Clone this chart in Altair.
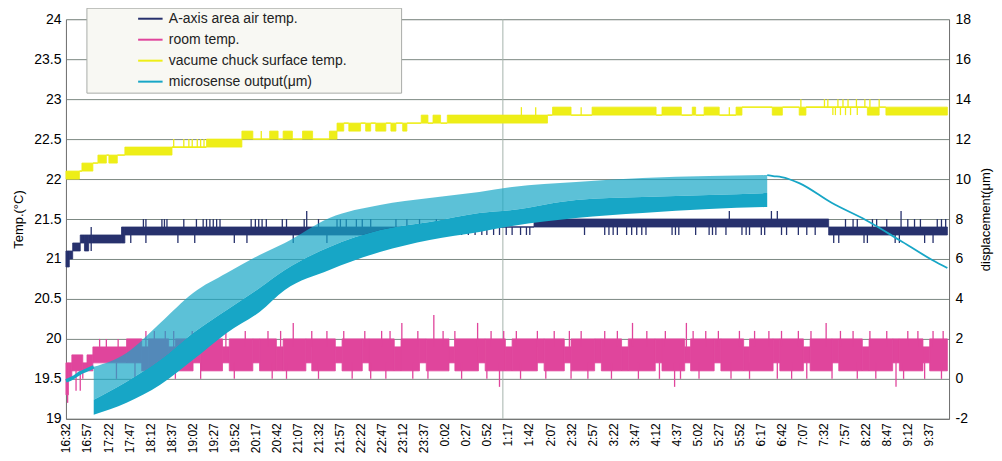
import altair as alt
import pandas as pd

# ---------------- data ----------------
series_names = ["A-axis area air temp.", "room temp.",
                "vacume chuck surface temp.", "microsense output(μm)"]
series_colors = ["#27316d", "#e0459c", "#eeee17", "#17a6c6"]

# x axis: minutes after 16:32, one label every 25 minutes
time_labels = ["16:32", "16:57", "17:22", "17:47", "18:12", "18:37", "19:02", "19:27",
               "19:52", "20:17", "20:42", "21:07", "21:32", "21:57", "22:22", "22:47",
               "23:12", "23:37", "0:02", "0:27", "0:52", "1:17", "1:42", "2:07",
               "2:32", "2:57", "3:22", "3:47", "4:12", "4:37", "5:02", "5:27",
               "5:52", "6:17", "6:42", "7:07", "7:32", "7:57", "8:22", "8:47",
               "9:12", "9:37"]
label_step = 25
x_end = 1049

temp_ticks = [19, 19.5, 20, 20.5, 21, 21.5, 22, 22.5, 23, 23.5, 24]
disp_ticks = [-2, 0, 2, 4, 6, 8, 10, 12, 14, 16, 18]

# A-axis area air temp. : step segments (breakpoints, lower level, upper level)
navy_t = [0, 4, 8, 17, 22, 27, 32, 66, 70, 450, 556, 906, 1047]
navy_lo = [20.9, 21.0, 21.1, 21.2, 21.1, 21.2, 21.2, 21.2, 21.3, 21.4, 21.4, 21.3]
navy_hi = [21.1, 21.1, 21.2, 21.3, 21.3, 21.3, 21.3, 21.4, 21.4, 21.4, 21.5, 21.4]
navy_spikes = [
    (30, 21.3, 21.4), (30, 21.2, 21.1), (68, 21.3, 21.2), (77, 21.3, 21.2), (92, 21.4, 21.5),
    (95, 21.4, 21.5), (95, 21.3, 21.2), (114, 21.4, 21.5), (117, 21.4, 21.5), (120, 21.4, 21.5),
    (133, 21.3, 21.2), (140, 21.4, 21.5), (153, 21.3, 21.2), (155, 21.4, 21.5), (163, 21.4, 21.5),
    (167, 21.4, 21.5), (171, 21.4, 21.5), (175, 21.4, 21.5), (179, 21.4, 21.5), (183, 21.4, 21.5),
    (200, 21.3, 21.2), (215, 21.3, 21.2), (220, 21.4, 21.5), (225, 21.4, 21.5), (229, 21.4, 21.5),
    (233, 21.4, 21.5), (238, 21.4, 21.5), (257, 21.4, 21.5), (262, 21.4, 21.5), (270, 21.3, 21.2),
    (283, 21.4, 21.5), (286, 21.4, 21.6), (300, 21.4, 21.5), (310, 21.3, 21.2), (322, 21.4, 21.5),
    (326, 21.4, 21.5), (333, 21.4, 21.5), (345, 21.4, 21.5), (352, 21.4, 21.5), (362, 21.4, 21.5),
    (380, 21.3, 21.2), (392, 21.4, 21.5), (405, 21.4, 21.5), (420, 21.4, 21.5), (440, 21.4, 21.5),
    (455, 21.4, 21.3), (462, 21.4, 21.3), (470, 21.4, 21.3), (478, 21.4, 21.3), (486, 21.4, 21.3),
    (494, 21.4, 21.3), (500, 21.4, 21.3), (508, 21.4, 21.3), (515, 21.4, 21.3), (523, 21.4, 21.3),
    (530, 21.4, 21.3), (540, 21.4, 21.3), (547, 21.4, 21.3), (551, 21.4, 21.3),
    (616, 21.4, 21.3), (640, 21.4, 21.3), (645, 21.4, 21.3), (650, 21.4, 21.3), (655, 21.4, 21.3),
    (666, 21.4, 21.3), (672, 21.4, 21.3), (678, 21.4, 21.3), (684, 21.4, 21.3), (689, 21.4, 21.3),
    (720, 21.4, 21.3), (724, 21.4, 21.3), (728, 21.4, 21.3), (748, 21.4, 21.3), (764, 21.4, 21.3),
    (768, 21.4, 21.3), (772, 21.4, 21.3), (784, 21.4, 21.3), (788, 21.5, 21.6), (803, 21.4, 21.3),
    (808, 21.4, 21.3), (812, 21.4, 21.3), (826, 21.4, 21.3), (830, 21.4, 21.3), (838, 21.5, 21.6),
    (845, 21.5, 21.6), (850, 21.4, 21.3), (856, 21.4, 21.3), (870, 21.4, 21.3), (880, 21.4, 21.3),
    (890, 21.4, 21.3), (912, 21.3, 21.2), (918, 21.3, 21.2), (926, 21.4, 21.5), (935, 21.4, 21.5),
    (940, 21.4, 21.5), (948, 21.3, 21.2), (952, 21.3, 21.2), (958, 21.4, 21.5), (963, 21.4, 21.5),
    (975, 21.4, 21.5), (985, 21.3, 21.2), (990, 21.3, 21.2), (992, 21.4, 21.6), (1000, 21.4, 21.5),
    (1008, 21.4, 21.5), (1015, 21.4, 21.5), (1020, 21.3, 21.2), (1030, 21.3, 21.2), (1035, 21.4, 21.5),
    (1040, 21.4, 21.5), (1045, 21.4, 21.5)]

# room temp.
mag_t = [0, 3, 7, 20, 25, 32, 72, 90, 98, 122, 130, 151, 160, 186, 194, 222, 230, 250, 258, 285,
         292, 320, 328, 352, 360, 390, 398, 420, 428, 455, 462, 490, 498, 522, 530, 560, 568, 592,
         600, 628, 636, 660, 668, 700, 708, 735, 742, 770, 778, 805, 812, 840, 848, 876, 884, 910,
         918, 946, 954, 982, 990, 1018, 1026, 1047]
mag_lo = [19.3, 19.5, 19.6, 19.6, 19.6, 19.7, 19.7, 19.6, 19.6, 19.7, 19.6, 19.7, 19.6, 19.7, 19.6,
          19.7, 19.6, 19.6, 19.6, 19.7, 19.6, 19.7, 19.6, 19.7, 19.6, 19.6, 19.6, 19.7, 19.6, 19.7,
          19.6, 19.7, 19.6, 19.6, 19.6, 19.7, 19.6, 19.7, 19.6, 19.7, 19.6, 19.6, 19.6, 19.7, 19.6,
          19.7, 19.6, 19.7, 19.6, 19.6, 19.6, 19.7, 19.6, 19.7, 19.6, 19.7, 19.6, 19.6, 19.6, 19.7,
          19.6, 19.7, 19.6]
mag_hi = [19.7, 19.7, 19.8, 19.7, 19.8, 19.9, 20.0, 19.9, 20.0, 19.9, 20.0, 20.0, 20.0, 19.9, 20.0,
          20.0, 20.0, 19.9, 20.0, 20.0, 20.0, 19.9, 20.0, 20.0, 20.0, 19.9, 20.0, 20.0, 20.0, 19.9,
          20.0, 20.0, 20.0, 19.9, 20.0, 20.0, 20.0, 19.9, 20.0, 20.0, 20.0, 19.9, 20.0, 20.0, 20.0,
          19.9, 20.0, 20.0, 20.0, 19.9, 20.0, 20.0, 20.0, 19.9, 20.0, 20.0, 20.0, 19.9, 20.0, 20.0,
          20.0, 19.9, 20.0]
mag_spikes = [
    (2, 19.3, 19.2), (12, 19.6, 19.35), (17, 19.6, 19.35), (20, 19.6, 19.5), (40, 19.9, 20.0),
    (48, 19.9, 20.0), (60, 19.7, 19.5), (62, 19.9, 20.0), (82, 19.7, 19.5), (95, 19.9, 20.1),
    (100, 19.7, 19.5), (105, 19.9, 20.1), (118, 19.9, 20.1), (128, 19.9, 20.1), (130, 19.7, 19.5),
    (150, 19.9, 20.1), (160, 19.7, 19.5), (175, 19.9, 20.1), (190, 19.9, 20.1), (200, 19.7, 19.5),
    (213, 19.9, 20.1), (240, 19.9, 20.1), (245, 19.7, 19.5), (255, 19.9, 20.1), (262, 19.7, 19.5),
    (270, 19.9, 20.2), (292, 19.9, 20.1), (300, 19.7, 19.5), (310, 19.9, 20.1), (330, 19.9, 20.1),
    (340, 19.7, 19.5), (355, 19.9, 20.1), (362, 19.7, 19.5), (375, 19.9, 20.1), (380, 19.7, 19.5),
    (385, 19.9, 20.1), (399, 19.9, 20.2), (412, 19.7, 19.5), (418, 19.9, 20.1), (430, 19.7, 19.5),
    (437, 19.9, 20.3), (448, 19.9, 20.1), (462, 19.9, 20.1), (470, 19.7, 19.5), (489, 19.9, 20.2),
    (500, 19.7, 19.5), (505, 19.9, 20.1), (515, 19.7, 19.4), (520, 19.9, 20.1), (535, 19.9, 20.1),
    (540, 19.7, 19.5), (560, 19.9, 20.1), (570, 19.7, 19.5), (580, 19.9, 20.1), (598, 19.9, 20.1),
    (600, 19.7, 19.5), (612, 19.9, 20.1), (620, 19.7, 19.5), (640, 19.9, 20.1), (648, 19.7, 19.5),
    (655, 19.9, 20.1), (673, 19.9, 20.2), (680, 19.7, 19.5), (690, 19.9, 20.1), (705, 19.7, 19.5),
    (712, 19.9, 20.1), (723, 19.7, 19.4), (730, 19.7, 19.5), (737, 19.9, 20.2), (745, 19.9, 20.1),
    (752, 19.7, 19.5), (760, 19.9, 20.1), (775, 19.9, 20.1), (790, 19.7, 19.5), (800, 19.9, 20.1),
    (812, 19.7, 19.5), (818, 19.9, 20.1), (835, 19.9, 20.1), (845, 19.7, 19.5), (850, 19.9, 20.1),
    (862, 19.7, 19.5), (870, 19.9, 20.1), (880, 19.7, 19.5), (885, 19.9, 20.1), (903, 19.9, 20.2),
    (910, 19.7, 19.5), (920, 19.9, 20.1), (935, 19.9, 20.1), (940, 19.7, 19.5), (955, 19.9, 20.1),
    (962, 19.7, 19.5), (975, 19.9, 20.1), (986, 19.7, 19.4), (995, 19.7, 19.5), (1000, 19.9, 20.1),
    (1012, 19.9, 20.1), (1020, 19.7, 19.5), (1030, 19.9, 20.1), (1040, 19.7, 19.5), (1042, 19.9, 20.1)]

# vacume chuck surface temp.
yel_t = [0, 16, 19, 32, 38, 48, 51, 61, 70, 126, 167, 209, 222, 242, 252, 258, 269, 281, 293, 313,
         322, 330, 336, 350, 356, 362, 368, 380, 386, 392, 400, 405, 422, 430, 436, 445, 453, 572,
         578, 600, 625, 701, 708, 731, 744, 748, 758, 776, 796, 803, 839, 851, 871, 879, 952, 966,
         974, 1047]
yel_lo = [22.0, 22.1, 22.1, 22.2, 22.2, 22.3, 22.2, 22.3, 22.3, 22.4, 22.4, 22.5, 22.5, 22.5, 22.5,
          22.5, 22.5, 22.5, 22.5, 22.5, 22.6, 22.7, 22.6, 22.7, 22.6, 22.7, 22.6, 22.7, 22.6, 22.7,
          22.6, 22.7, 22.7, 22.7, 22.7, 22.7, 22.7, 22.8, 22.8, 22.8, 22.8, 22.8, 22.8, 22.8, 22.8,
          22.8, 22.8, 22.8, 22.8, 22.9, 22.8, 22.9, 22.8, 22.9, 22.8, 22.9, 22.8]
yel_hi = [22.1, 22.1, 22.2, 22.2, 22.3, 22.3, 22.3, 22.3, 22.4, 22.4, 22.5, 22.6, 22.5, 22.6, 22.5,
          22.6, 22.5, 22.6, 22.5, 22.6, 22.7, 22.7, 22.7, 22.7, 22.7, 22.7, 22.7, 22.7, 22.7, 22.7,
          22.7, 22.7, 22.8, 22.7, 22.8, 22.7, 22.8, 22.8, 22.9, 22.8, 22.9, 22.8, 22.9, 22.8, 22.9,
          22.8, 22.9, 22.8, 22.9, 22.9, 22.9, 22.9, 22.9, 22.9, 22.9, 22.9, 22.9]
yel_spikes = [
    (128, 22.4, 22.5), (140, 22.4, 22.5), (146, 22.4, 22.5), (150, 22.4, 22.5), (156, 22.4, 22.5),
    (160, 22.4, 22.5), (164, 22.4, 22.5), (232, 22.5, 22.6), (541, 22.8, 22.9), (558, 22.8, 22.9),
    (612, 22.8, 22.9), (788, 22.8, 22.9), (873, 22.9, 23.0), (901, 22.9, 23.0), (905, 22.9, 23.0),
    (911, 22.9, 22.8), (914, 22.9, 22.8), (917, 22.9, 23.0), (920, 22.9, 22.8), (923, 22.9, 23.0),
    (926, 22.9, 22.8), (929, 22.9, 23.0), (932, 22.9, 22.8), (939, 22.9, 23.0), (940, 22.9, 22.8),
    (949, 22.9, 23.0), (955, 22.9, 23.0), (966, 22.9, 23.0)]

# microsense output (μm, right axis)
cyan_start_t = [0, 8, 17, 25, 33]
cyan_start_v = [-0.1, 0.05, 0.3, 0.45, 0.6]
cyan_osc_t = [33, 72, 112, 151, 191, 230, 260, 313, 373, 432, 491, 530, 606, 685, 764, 833]
cyan_osc_lo = [-1.8, -1.2, -0.3, 0.95, 2.3, 3.35, 4.45, 5.45, 6.35, 6.95, 7.35, 7.65, 8.05, 8.3, 8.5, 8.6]
cyan_osc_mid = [-1.05, -0.15, 0.95, 2.3, 3.45, 4.55, 5.45, 6.6, 7.45, 7.85, 8.3, 8.45, 8.95, 9.1, 9.2, 9.3]
cyan_osc_hi = [0.6, 1.3, 2.8, 4.3, 5.3, 6.2, 6.8, 8.05, 8.7, 9.05, 9.35, 9.6, 9.85, 10.05, 10.15, 10.2]
cyan_tail_t = [833, 840, 850, 871, 910, 950, 990, 1029, 1047]
cyan_tail_v = [10.2, 10.15, 10.1, 9.8, 8.8, 7.95, 6.95, 5.95, 5.55]

marker_t = [519]

# ---------------- styling ----------------
FONT = "Liberation Sans"
BG = "#bccac3"
GRID = "#7b8882"

label_js = "[" + ",".join("'%s'" % s for s in time_labels) + "]"
x_scale = alt.Scale(domain=[0, x_end], nice=False, zero=False)
x_axis = alt.Axis(values=[i * label_step for i in range(len(time_labels))],
                  labelExpr=label_js + "[round(datum.value / %d)]" % label_step,
                  labelAngle=270, labelFontSize=12, labelFont=FONT, labelColor="#000",
                  labelPadding=4, labelOverlap=False, labelFlush=False, ticks=False,
                  grid=False, domainColor="#6f6f6f", title=None)
t_scale = alt.Scale(domain=[19, 24], nice=False, zero=False)
t_axis = alt.Axis(values=temp_ticks, format=".1~f", grid=True, gridColor=GRID, gridWidth=1,
                  ticks=False, domainColor="#6f6f6f", labelFontSize=14, labelFont=FONT,
                  labelColor="#000", labelPadding=5, title="Temp.(°C)", titleFont=FONT,
                  titleFontSize=13, titleFontWeight="normal", titleColor="#000", titlePadding=8)
d_scale = alt.Scale(domain=[-2, 18], nice=False, zero=False)
d_axis = alt.Axis(orient="right", values=disp_ticks, labelExpr="datum.value + ''", grid=False,
                  ticks=False, domainColor="#6f6f6f", labelFontSize=14, labelFont=FONT,
                  labelColor="#000", labelPadding=6, title="displacement(μm)", titleFont=FONT,
                  titleFontSize=13, titleFontWeight="normal", titleColor="#000",
                  titleAngle=270, titleX=36, titleY=200, titleAlign="center",
                  titleBaseline="middle")


def X(f):
    return alt.X(f, type="quantitative", scale=x_scale, axis=x_axis)


def YT(f):
    return alt.Y(f, type="quantitative", scale=t_scale, axis=t_axis)


def YD(f):
    return alt.Y(f, type="quantitative", scale=d_scale, axis=d_axis)


def temp_layers(t, lo, hi, spikes, color):
    seg = pd.DataFrame({"t0": t[:-1], "t1": t[1:], "lo": lo, "hi": hi})
    blocks = seg[seg["lo"] < seg["hi"]]
    flats = seg[seg["lo"] == seg["hi"]]
    sp = pd.DataFrame(spikes, columns=["t", "v0", "v1"])
    out = [alt.Chart(blocks).mark_rect(fill=color, stroke=color, strokeWidth=0.8)
           .encode(x=X("t0"), x2="t1", y=YT("lo"), y2="hi")]
    if len(flats):
        out.append(alt.Chart(flats).mark_rule(color=color, strokeWidth=1.6)
                   .encode(x=X("t0"), x2="t1", y=YT("lo")))
    out.append(alt.Chart(sp).mark_rule(color=color, strokeWidth=1.3)
               .encode(x=X("t"), y=YT("v0"), y2="v1"))
    return out


marker = alt.Chart(pd.DataFrame({"t": marker_t})).mark_rule(
    color="#a5b3ac", strokeWidth=1).encode(x=X("t"))

legend_box = alt.Chart(pd.DataFrame({"k": [0]})).mark_rect(
    fill="#f8f8f3", stroke="#a9aca8", strokeWidth=1).encode(
    x=alt.value(21), x2=alt.value(336), y=alt.value(-11), y2=alt.value(74))

temp_layer = alt.layer(
    marker,
    *temp_layers(navy_t, navy_lo, navy_hi, navy_spikes, series_colors[0]),
    *temp_layers(mag_t, mag_lo, mag_hi, mag_spikes, series_colors[1]),
    *temp_layers(yel_t, yel_lo, yel_hi, yel_spikes, series_colors[2]),
    legend_box,
)

color_enc = alt.Color("series:N", scale=alt.Scale(domain=series_names, range=series_colors),
                      legend=alt.Legend(orient="none", legendX=71, legendY=-14, title=None,
                                        symbolType="stroke", symbolSize=600,
                                        symbolStrokeWidth=2, labelFont=FONT, labelFontSize=14,
                                        labelColor="#222", labelOffset=5, labelLimit=400,
                                        rowPadding=0, padding=0))

osc = pd.DataFrame({"t": cyan_osc_t, "lo": cyan_osc_lo, "mid": cyan_osc_mid, "hi": cyan_osc_hi})
start = pd.DataFrame({"t": cyan_start_t, "v": cyan_start_v, "series": series_names[3]})
tail = pd.DataFrame({"t": cyan_tail_t, "v": cyan_tail_v, "series": series_names[3]})

cyan = series_colors[3]
cyan_layer = alt.layer(
    alt.Chart(osc).mark_area(color=cyan, opacity=0.7, interpolate="monotone")
    .encode(x=X("t"), y=YD("mid"), y2="hi"),
    alt.Chart(osc).mark_area(color=cyan, opacity=1, interpolate="monotone")
    .encode(x=X("t"), y=YD("lo"), y2="mid"),
    alt.Chart(start).mark_line(strokeWidth=3.5, interpolate="monotone")
    .encode(x=X("t"), y=YD("v"), color=color_enc),
    alt.Chart(tail).mark_line(strokeWidth=1.8, interpolate="monotone")
    .encode(x=X("t"), y=YD("v"), color=color_enc),
)

chart = alt.layer(temp_layer, cyan_layer).resolve_scale(y="independent").properties(
    width=884, height=400,
    padding={"left": 58, "top": 11, "right": 45, "bottom": 42},
    autosize=alt.AutoSizeParams(type="none"),
    background="white",
).configure_view(fill=BG, stroke=None).configure(font=FONT)

chart.save("out.html", embed_options={"renderer": "svg", "actions": False})
